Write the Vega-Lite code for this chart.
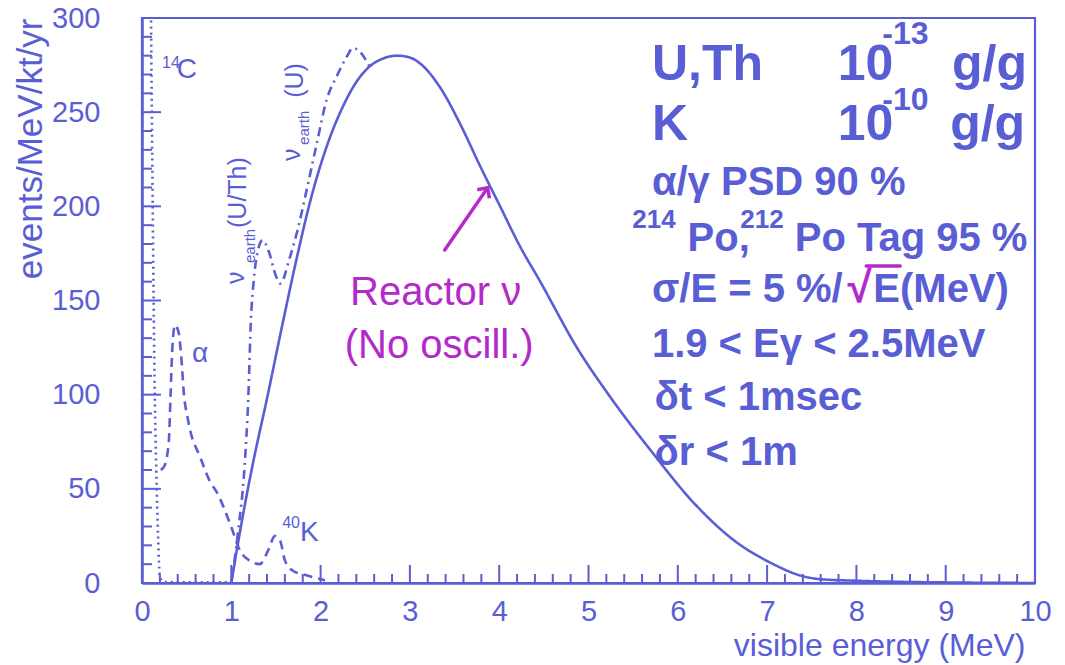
{
  "$schema": "https://vega.github.io/schema/vega-lite/v6.json",
  "width": 893,
  "height": 565,
  "autosize": {"type": "none"},
  "padding": {"left": 142, "top": 18, "right": 30, "bottom": 82},
  "background": "white",
  "config": {
    "view": {"stroke": "#5a5ed4", "strokeWidth": 2.2},
    "font": "Liberation Sans"
  },
  "datasets": {
    "curves": [
      {"series": "reactor", "e": 1.00, "rate": 0},
      {"series": "reactor", "e": 1.10, "rate": 28},
      {"series": "reactor", "e": 1.24, "rate": 63},
      {"series": "reactor", "e": 1.40, "rate": 98},
      {"series": "reactor", "e": 1.58, "rate": 139},
      {"series": "reactor", "e": 1.74, "rate": 174},
      {"series": "reactor", "e": 1.88, "rate": 202},
      {"series": "reactor", "e": 2.07, "rate": 232},
      {"series": "reactor", "e": 2.25, "rate": 253},
      {"series": "reactor", "e": 2.40, "rate": 266},
      {"series": "reactor", "e": 2.52, "rate": 273},
      {"series": "reactor", "e": 2.70, "rate": 278.5},
      {"series": "reactor", "e": 2.86, "rate": 280},
      {"series": "reactor", "e": 3.00, "rate": 279},
      {"series": "reactor", "e": 3.11, "rate": 276},
      {"series": "reactor", "e": 3.34, "rate": 263},
      {"series": "reactor", "e": 3.56, "rate": 244},
      {"series": "reactor", "e": 3.79, "rate": 221},
      {"series": "reactor", "e": 4.01, "rate": 200},
      {"series": "reactor", "e": 4.23, "rate": 179},
      {"series": "reactor", "e": 4.46, "rate": 160},
      {"series": "reactor", "e": 4.87, "rate": 125},
      {"series": "reactor", "e": 5.24, "rate": 99},
      {"series": "reactor", "e": 5.72, "rate": 69},
      {"series": "reactor", "e": 6.17, "rate": 43},
      {"series": "reactor", "e": 6.62, "rate": 23},
      {"series": "reactor", "e": 7.07, "rate": 10},
      {"series": "reactor", "e": 7.37, "rate": 4},
      {"series": "reactor", "e": 7.60, "rate": 2},
      {"series": "reactor", "e": 8.00, "rate": 1.2},
      {"series": "reactor", "e": 8.50, "rate": 0.6},
      {"series": "reactor", "e": 9.00, "rate": 0.3},
      {"series": "reactor", "e": 10.00, "rate": 0},

      {"series": "geo", "e": 1.00, "rate": 0},
      {"series": "geo", "e": 1.075, "rate": 27},
      {"series": "geo", "e": 1.15, "rate": 63},
      {"series": "geo", "e": 1.19, "rate": 98},
      {"series": "geo", "e": 1.22, "rate": 140},
      {"series": "geo", "e": 1.25, "rate": 160},
      {"series": "geo", "e": 1.30, "rate": 177},
      {"series": "geo", "e": 1.35, "rate": 182},
      {"series": "geo", "e": 1.42, "rate": 176},
      {"series": "geo", "e": 1.50, "rate": 163},
      {"series": "geo", "e": 1.55, "rate": 159},
      {"series": "geo", "e": 1.65, "rate": 172},
      {"series": "geo", "e": 1.74, "rate": 187},
      {"series": "geo", "e": 1.85, "rate": 210},
      {"series": "geo", "e": 1.96, "rate": 234},
      {"series": "geo", "e": 2.07, "rate": 257},
      {"series": "geo", "e": 2.18, "rate": 269},
      {"series": "geo", "e": 2.30, "rate": 280},
      {"series": "geo", "e": 2.36, "rate": 284},
      {"series": "geo", "e": 2.42, "rate": 283},
      {"series": "geo", "e": 2.55, "rate": 274},

      {"series": "alpha", "e": 0.21, "rate": 60},
      {"series": "alpha", "e": 0.25, "rate": 62},
      {"series": "alpha", "e": 0.30, "rate": 75},
      {"series": "alpha", "e": 0.32, "rate": 100},
      {"series": "alpha", "e": 0.34, "rate": 125},
      {"series": "alpha", "e": 0.37, "rate": 137},
      {"series": "alpha", "e": 0.41, "rate": 133},
      {"series": "alpha", "e": 0.44, "rate": 120},
      {"series": "alpha", "e": 0.47, "rate": 100},
      {"series": "alpha", "e": 0.51, "rate": 88},
      {"series": "alpha", "e": 0.54, "rate": 81},
      {"series": "alpha", "e": 0.65, "rate": 67},
      {"series": "alpha", "e": 0.76, "rate": 54},
      {"series": "alpha", "e": 0.84, "rate": 48},
      {"series": "alpha", "e": 0.99, "rate": 31},
      {"series": "alpha", "e": 1.10, "rate": 17},
      {"series": "alpha", "e": 1.20, "rate": 12},
      {"series": "alpha", "e": 1.32, "rate": 10},
      {"series": "alpha", "e": 1.41, "rate": 17},
      {"series": "alpha", "e": 1.49, "rate": 25},
      {"series": "alpha", "e": 1.55, "rate": 22},
      {"series": "alpha", "e": 1.60, "rate": 12},
      {"series": "alpha", "e": 1.69, "rate": 6.5},
      {"series": "alpha", "e": 1.85, "rate": 4},
      {"series": "alpha", "e": 1.96, "rate": 2.5},
      {"series": "alpha", "e": 2.05, "rate": 1.5},

      {"series": "c14", "e": 0.10, "rate": 305},
      {"series": "c14", "e": 0.12, "rate": 200},
      {"series": "c14", "e": 0.14, "rate": 110},
      {"series": "c14", "e": 0.16, "rate": 60},
      {"series": "c14", "e": 0.18, "rate": 25},
      {"series": "c14", "e": 0.20, "rate": 3},
      {"series": "c14", "e": 0.25, "rate": 0.5},
      {"series": "c14", "e": 1.00, "rate": 0.3}
    ],
    "xMajor": [
      {"e": 0}, {"e": 1}, {"e": 2}, {"e": 3}, {"e": 4}, {"e": 5},
      {"e": 6}, {"e": 7}, {"e": 8}, {"e": 9}, {"e": 10}
    ],
    "xMinor": [
      {"e": 0.2}, {"e": 0.4}, {"e": 0.6}, {"e": 0.8},
      {"e": 1.2}, {"e": 1.4}, {"e": 1.6}, {"e": 1.8},
      {"e": 2.2}, {"e": 2.4}, {"e": 2.6}, {"e": 2.8},
      {"e": 3.2}, {"e": 3.4}, {"e": 3.6}, {"e": 3.8},
      {"e": 4.2}, {"e": 4.4}, {"e": 4.6}, {"e": 4.8},
      {"e": 5.2}, {"e": 5.4}, {"e": 5.6}, {"e": 5.8},
      {"e": 6.2}, {"e": 6.4}, {"e": 6.6}, {"e": 6.8},
      {"e": 7.2}, {"e": 7.4}, {"e": 7.6}, {"e": 7.8},
      {"e": 8.2}, {"e": 8.4}, {"e": 8.6}, {"e": 8.8},
      {"e": 9.2}, {"e": 9.4}, {"e": 9.6}, {"e": 9.8}
    ],
    "yMajor": [
      {"rate": 0}, {"rate": 50}, {"rate": 100}, {"rate": 150},
      {"rate": 200}, {"rate": 250}, {"rate": 300}
    ],
    "yMinor": [
      {"rate": 10}, {"rate": 20}, {"rate": 30}, {"rate": 40},
      {"rate": 60}, {"rate": 70}, {"rate": 80}, {"rate": 90},
      {"rate": 110}, {"rate": 120}, {"rate": 130}, {"rate": 140},
      {"rate": 160}, {"rate": 170}, {"rate": 180}, {"rate": 190},
      {"rate": 210}, {"rate": 220}, {"rate": 230}, {"rate": 240},
      {"rate": 260}, {"rate": 270}, {"rate": 280}, {"rate": 290}
    ],
    "boldBig": [
      {"e": 5.71, "rate": 267.1, "label": "U,Th"},
      {"e": 7.79, "rate": 267.1, "label": "10"},
      {"e": 9.07, "rate": 267.1, "label": "g/g"},
      {"e": 5.71, "rate": 235.3, "label": "K"},
      {"e": 7.79, "rate": 235.3, "label": "10"},
      {"e": 9.05, "rate": 235.3, "label": "g/g"}
    ],
    "boldBigSup": [
      {"e": 8.29, "rate": 286.2, "label": "-13"},
      {"e": 8.29, "rate": 251.2, "label": "-10"}
    ],
    "boldMid": [
      {"e": 5.71, "rate": 206, "label": "α/γ PSD 90 %"},
      {"e": 6.11, "rate": 176.3, "label": "Po,"},
      {"e": 7.31, "rate": 176.3, "label": "Po Tag 95 %"},
      {"e": 5.71, "rate": 149.2, "label": "σ/E = 5 %/"},
      {"e": 8.19, "rate": 149.2, "label": "E(MeV)"},
      {"e": 5.71, "rate": 120, "label": "1.9 < Eγ < 2.5MeV"},
      {"e": 5.74, "rate": 91.9, "label": "δt < 1msec"},
      {"e": 5.74, "rate": 62.7, "label": "δr < 1m"}
    ],
    "boldMidSup": [
      {"e": 5.49, "rate": 188.5, "label": "214"},
      {"e": 6.70, "rate": 188.5, "label": "212"}
    ],
    "curveLabels": [
      {"e": 0.39, "rate": 268.2, "label": "C"},
      {"e": 0.56, "rate": 117.4, "label": "α"},
      {"e": 1.77, "rate": 22.3, "label": "K"}
    ],
    "curveLabelSup": [
      {"e": 0.224, "rate": 273.5, "label": "14"},
      {"e": 1.57, "rate": 29.2, "label": "40"}
    ],
    "geoLabels": [
      {"e": 1.142, "rate": 158.8, "label": "ν"},
      {"e": 1.165, "rate": 188.5, "label": "(U/Th)"},
      {"e": 1.77, "rate": 224.1, "label": "ν"},
      {"e": 1.80, "rate": 257.6, "label": "(U)"}
    ],
    "geoLabelSub": [
      {"e": 1.265, "rate": 169.9, "label": "earth"},
      {"e": 1.87, "rate": 232.6, "label": "earth"}
    ],
    "handNotes": [
      {"e": 2.33, "rate": 147.6, "label": "Reactor ν"},
      {"e": 2.27, "rate": 119.5, "label": "(No oscill.)"}
    ],
    "rootSign": [
      {"e": 7.90, "rate": 149.2, "label": "√"}
    ],
    "handStrokes": [
      {"part": "arrow", "e": 3.39, "rate": 176.8},
      {"part": "arrow", "e": 3.87, "rate": 209.8},
      {"part": "root", "e": 8.11, "rate": 168.3},
      {"part": "root", "e": 8.49, "rate": 168.3}
    ],
    "arrowTip": [
      {"e": 3.87, "rate": 209.8}
    ]
  },
  "layer": [
    {
      "data": {"name": "curves"},
      "mark": {"type": "line", "color": "#5a5ed4", "strokeWidth": 2.6, "clip": true, "interpolate": "monotone"},
      "encoding": {
        "x": {
          "field": "e", "type": "quantitative",
          "scale": {"domain": [0, 10], "nice": false, "zero": false},
          "axis": {
            "orient": "bottom", "zindex": 1,
            "values": [0, 1, 2, 3, 4, 5, 6, 7, 8, 9, 10],
            "format": "d",
            "grid": false, "ticks": false,
            "domainColor": "#5a5ed4", "domainWidth": 2.5,
            "labelColor": "#5a5ed4", "labelFont": "Liberation Sans", "labelFontSize": 29,
            "labelPadding": 14, "labelFlush": false, "labelBaseline": "top",
            "title": "visible energy (MeV)",
            "titleColor": "#5a5ed4", "titleFont": "Liberation Sans", "titleFontSize": 32, "titleFontWeight": "normal",
            "titleAnchor": "end", "titleAlign": "right", "titleBaseline": "alphabetic",
            "titleX": 883, "titleY": 72
          }
        },
        "y": {
          "field": "rate", "type": "quantitative",
          "scale": {"domain": [0, 300], "nice": false},
          "axis": {
            "orient": "left", "zindex": 1,
            "values": [0, 50, 100, 150, 200, 250, 300],
            "format": "d",
            "grid": false, "ticks": false,
            "domainColor": "#5a5ed4", "domainWidth": 2.5,
            "labelColor": "#5a5ed4", "labelFont": "Liberation Sans", "labelFontSize": 29,
            "labelPadding": 42, "labelFlush": false,
            "title": "events/MeV/kt/yr",
            "titleColor": "#5a5ed4", "titleFont": "Liberation Sans", "titleFontSize": 35, "titleFontWeight": "normal",
            "titleAngle": -90, "titleAnchor": "end", "titleAlign": "right", "titleBaseline": "middle",
            "titleX": -112, "titleY": 0
          }
        },
        "detail": {"field": "series"},
        "strokeDash": {
          "field": "series", "type": "nominal", "legend": null,
          "scale": {"domain": ["reactor", "alpha", "geo", "c14"], "range": [[1, 0], [9, 6], [9, 5, 2, 5], [2, 4]]}
        }
      }
    },
    {
      "data": {"name": "xMajor"},
      "mark": {"type": "tick", "orient": "vertical", "size": 18, "thickness": 2, "yOffset": -9, "color": "#5a5ed4", "opacity": 1},
      "encoding": {
        "x": {"field": "e", "type": "quantitative"},
        "y": {"datum": 0, "type": "quantitative"}
      }
    },
    {
      "data": {"name": "xMinor"},
      "mark": {"type": "tick", "orient": "vertical", "size": 9, "thickness": 2, "yOffset": -4.5, "color": "#5a5ed4", "opacity": 1},
      "encoding": {
        "x": {"field": "e", "type": "quantitative"},
        "y": {"datum": 0, "type": "quantitative"}
      }
    },
    {
      "data": {"name": "yMajor"},
      "mark": {"type": "tick", "orient": "horizontal", "size": 19, "thickness": 2, "xOffset": 9.5, "color": "#5a5ed4", "opacity": 1},
      "encoding": {
        "y": {"field": "rate", "type": "quantitative"},
        "x": {"datum": 0, "type": "quantitative"}
      }
    },
    {
      "data": {"name": "yMinor"},
      "mark": {"type": "tick", "orient": "horizontal", "size": 10, "thickness": 2, "xOffset": 5, "color": "#5a5ed4", "opacity": 1},
      "encoding": {
        "y": {"field": "rate", "type": "quantitative"},
        "x": {"datum": 0, "type": "quantitative"}
      }
    },
    {
      "data": {"name": "curveLabels"},
      "mark": {"type": "text", "color": "#5a5ed4", "font": "Liberation Sans", "fontSize": 28, "align": "left", "baseline": "alphabetic"},
      "encoding": {
        "x": {"field": "e", "type": "quantitative"},
        "y": {"field": "rate", "type": "quantitative"},
        "text": {"field": "label"}
      }
    },
    {
      "data": {"name": "curveLabelSup"},
      "mark": {"type": "text", "color": "#5a5ed4", "font": "Liberation Sans", "fontSize": 16, "align": "left", "baseline": "alphabetic"},
      "encoding": {
        "x": {"field": "e", "type": "quantitative"},
        "y": {"field": "rate", "type": "quantitative"},
        "text": {"field": "label"}
      }
    },
    {
      "data": {"name": "geoLabels"},
      "mark": {"type": "text", "color": "#5a5ed4", "font": "Liberation Sans", "fontSize": 25, "angle": -90, "align": "left", "baseline": "alphabetic"},
      "encoding": {
        "x": {"field": "e", "type": "quantitative"},
        "y": {"field": "rate", "type": "quantitative"},
        "text": {"field": "label"}
      }
    },
    {
      "data": {"name": "geoLabelSub"},
      "mark": {"type": "text", "color": "#5a5ed4", "font": "Liberation Sans", "fontSize": 15, "angle": -90, "align": "left", "baseline": "alphabetic"},
      "encoding": {
        "x": {"field": "e", "type": "quantitative"},
        "y": {"field": "rate", "type": "quantitative"},
        "text": {"field": "label"}
      }
    },
    {
      "data": {"name": "boldBig"},
      "mark": {"type": "text", "color": "#5a5ed4", "font": "Liberation Sans", "fontWeight": "bold", "fontSize": 50, "align": "left", "baseline": "alphabetic"},
      "encoding": {
        "x": {"field": "e", "type": "quantitative"},
        "y": {"field": "rate", "type": "quantitative"},
        "text": {"field": "label"}
      }
    },
    {
      "data": {"name": "boldBigSup"},
      "mark": {"type": "text", "color": "#5a5ed4", "font": "Liberation Sans", "fontWeight": "bold", "fontSize": 32, "align": "left", "baseline": "alphabetic"},
      "encoding": {
        "x": {"field": "e", "type": "quantitative"},
        "y": {"field": "rate", "type": "quantitative"},
        "text": {"field": "label"}
      }
    },
    {
      "data": {"name": "boldMid"},
      "mark": {"type": "text", "color": "#5a5ed4", "font": "Liberation Sans", "fontWeight": "bold", "fontSize": 40, "align": "left", "baseline": "alphabetic"},
      "encoding": {
        "x": {"field": "e", "type": "quantitative"},
        "y": {"field": "rate", "type": "quantitative"},
        "text": {"field": "label"}
      }
    },
    {
      "data": {"name": "boldMidSup"},
      "mark": {"type": "text", "color": "#5a5ed4", "font": "Liberation Sans", "fontWeight": "bold", "fontSize": 26, "align": "left", "baseline": "alphabetic"},
      "encoding": {
        "x": {"field": "e", "type": "quantitative"},
        "y": {"field": "rate", "type": "quantitative"},
        "text": {"field": "label"}
      }
    },
    {
      "data": {"name": "handNotes"},
      "mark": {"type": "text", "color": "#b42ac8", "font": "Liberation Sans", "fontSize": 40, "align": "left", "baseline": "alphabetic"},
      "encoding": {
        "x": {"field": "e", "type": "quantitative"},
        "y": {"field": "rate", "type": "quantitative"},
        "text": {"field": "label"}
      }
    },
    {
      "data": {"name": "rootSign"},
      "mark": {"type": "text", "color": "#b42ac8", "font": "Liberation Sans", "fontWeight": "bold", "fontSize": 44, "align": "left", "baseline": "alphabetic"},
      "encoding": {
        "x": {"field": "e", "type": "quantitative"},
        "y": {"field": "rate", "type": "quantitative"},
        "text": {"field": "label"}
      }
    },
    {
      "data": {"name": "handStrokes"},
      "mark": {"type": "line", "color": "#b42ac8", "strokeWidth": 3.5, "strokeCap": "round"},
      "encoding": {
        "x": {"field": "e", "type": "quantitative"},
        "y": {"field": "rate", "type": "quantitative"},
        "detail": {"field": "part"}
      }
    },
    {
      "data": {"name": "arrowTip"},
      "mark": {"type": "point", "shape": "M-1,1L0,0L1,1", "angle": 35, "size": 220, "filled": false, "color": "#b42ac8", "strokeWidth": 3.5, "opacity": 1},
      "encoding": {
        "x": {"field": "e", "type": "quantitative"},
        "y": {"field": "rate", "type": "quantitative"}
      }
    }
  ]
}
